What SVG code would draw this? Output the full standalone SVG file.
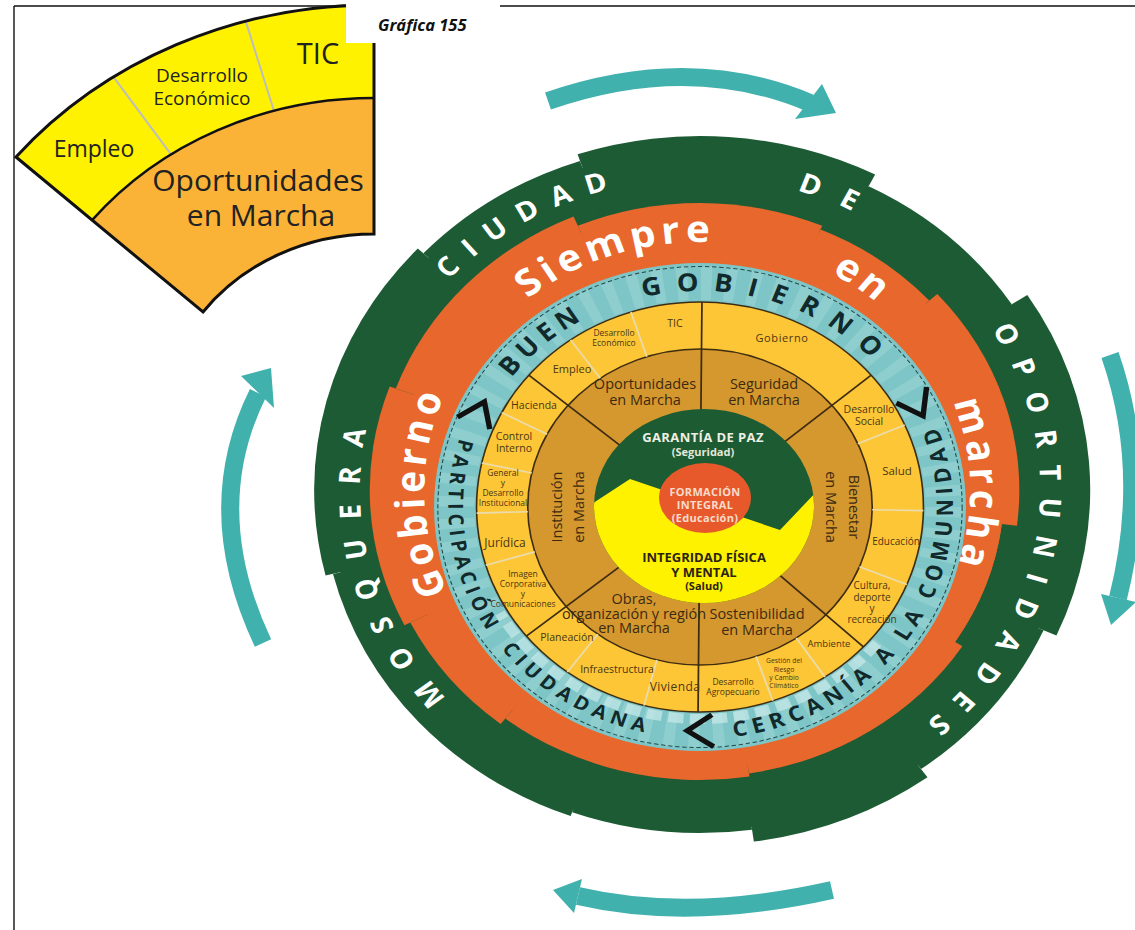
<svg xmlns="http://www.w3.org/2000/svg" width="1135" height="930" viewBox="0 0 1135 930">
<defs>
<style>
text{font-family:"Open Sans","Noto Sans","DejaVu Sans",sans-serif}
.gw{fill:#fff;font-weight:700;font-size:27px}
.ow{fill:#fff;font-weight:700;font-size:37px}
.tb{fill:#11292b;font-weight:700}
.yl{fill:#4b3614;text-anchor:middle}
.br{fill:#3c2a10;font-size:14.5px;text-anchor:middle}
.div{stroke:#3e2c12;stroke-width:1.6}
.sub{stroke:#eadcae;stroke-width:1.6}
.arw{fill:none;stroke:#41b1ae;stroke-width:18}
.ah{fill:#41b1ae}
.chev{fill:none;stroke:#111;stroke-width:5;stroke-linejoin:miter}
.gr{fill:#1c5b34}
.or{fill:#e8672c}
.ct{text-anchor:middle;font-weight:700}
</style>
<path id="pG" d="M0,312 A312,312 0 1,1 0,-312 A312,312 0 1,1 0,312" fill="none"/>
<path id="pO" d="M0,248 A248,248 0 1,1 0,-248 A248,248 0 1,1 0,248" fill="none"/>
<path id="pOL" d="M0,253 A253,253 0 1,1 0,-253 A253,253 0 1,1 0,253" fill="none"/>
<path id="pT1" d="M0,216 A216,216 0 1,1 0,-216 A216,216 0 1,1 0,216" fill="none"/>
<path id="pT2" d="M0,-231 A231,231 0 1,0 0,231 A231,231 0 1,0 0,-231" fill="none"/>
<path id="pT3" d="M0,-232 A232,232 0 1,0 0,232 A232,232 0 1,0 0,-232" fill="none"/>
<clipPath id="cc"><ellipse cx="704" cy="506" rx="110" ry="97"/></clipPath>
</defs>
<rect width="1135" height="930" fill="#fff"/>

<g id="frame" stroke="#111" stroke-width="1.4" fill="none">
<line x1="14" y1="6" x2="346" y2="6"/>
<line x1="500" y1="6" x2="1135" y2="6"/>
<line x1="14" y1="6" x2="14" y2="930"/>
</g>

<g id="inset-fan">
<path d="M16,157 A465.3,423 0 0,1 374,5 L374,234 A213.4,194 0 0,0 203,312 Z" fill="#fff200"/>
<path d="M92.1,220.1 A363,330 0 0,1 374,98 L374,234 A213.4,194 0 0,0 203,312 Z" fill="#fbb337"/>
<line x1="113.8" y1="77.3" x2="171" y2="154.4" stroke="#bdbdbd" stroke-width="2"/>
<line x1="245.8" y1="21.4" x2="273.9" y2="110.8" stroke="#bdbdbd" stroke-width="2"/>
<path d="M92.1,220.1 A363,330 0 0,1 374,98" fill="none" stroke="#111" stroke-width="2.5"/>
<path d="M16,157 A465.3,423 0 0,1 374,5 L374,234 A213.4,194 0 0,0 203,312 Z" fill="none" stroke="#111" stroke-width="3"/>
<text x="94" y="157" font-size="23" text-anchor="middle" fill="#222">Empleo</text>
<text font-size="19" text-anchor="middle" fill="#222"><tspan x="202" y="82">Desarrollo</tspan><tspan x="202" y="105">Económico</tspan></text>
<text x="318" y="64" font-size="29" text-anchor="middle" fill="#222">TIC</text>
<text font-size="30" text-anchor="middle" fill="#222"><tspan x="258" y="191">Oportunidades</tspan><tspan x="261" y="226">en Marcha</tspan></text>
</g>

<g id="title">
<rect x="346" y="0" width="154" height="43" fill="#fff"/>
<text x="378" y="31" font-family="Liberation Sans, Arial, sans-serif" font-size="16.5" font-weight="700" font-style="italic" fill="#111">Gráfica 155</text>
</g>

<g id="connectors">
<path class="arw" d="M548,101 Q690,52 810,103"/>
<polygon class="ah" points="822,84 836,113 795,119"/>
<path class="arw" d="M263,643 Q200,510 258,393"/>
<polygon class="ah" points="241,376 271,368 274,408"/>
<path class="arw" d="M1110,355 Q1150,470 1118,598"/>
<polygon class="ah" points="1101,594 1136,602 1111,625"/>
<path class="arw" d="M832,890 Q690,922 578,896"/>
<polygon class="ah" points="582,879 574,913 553,890"/>
</g>

<g id="ring-outer" transform="translate(700,490) scale(1.09,1)">
<circle r="340" class="gr"/>
<path class="gr" d="M0,0 L-343.5,85.6 A354,354 0 0,1 -258.9,-241.4 Z"/>
<path class="gr" d="M0,0 L-253.8,-236.7 A347,347 0 0,1 -110.1,-329.1 Z"/>
<path class="gr" d="M0,0 L-112.3,-335.7 A354,354 0 0,1 160.7,-315.4 Z"/>
<path class="gr" d="M0,0 L154.8,-303.8 A341,341 0 0,1 286,-185.7 Z"/>
<path class="gr" d="M0,0 L300.3,-195 A358,358 0 0,1 327,145.6 Z"/>
<path class="gr" d="M0,0 L315.2,140.3 A345,345 0 0,1 202.8,279.1 Z"/>
<path class="gr" d="M0,0 L208.7,287.2 A355,355 0 0,1 49.4,351.6 Z"/>
<path class="gr" d="M0,0 L47.7,339.7 A343,343 0 0,1 -117.3,322.3 Z"/>
<path class="gr" d="M0,0 L-118.7,326.1 A347,347 0 0,1 -336.7,83.9 Z"/>
<circle r="279" class="or"/>
<path class="or" d="M0,0 L-279.1,-101.6 A297,297 0 0,1 -116,-273.4 Z"/>
<path class="or" d="M0,0 L-112.1,-264.2 A287,287 0 0,1 112.1,-264.2 Z"/>
<path class="or" d="M0,0 L110.6,-260.5 A283,283 0 0,1 210.3,-189.4 Z"/>
<path class="or" d="M0,0 L217.7,-196 A293,293 0 0,1 290.8,35.7 Z"/>
<path class="or" d="M0,0 L276.9,34 A279,279 0 0,1 234,151.9 Z"/>
<path class="or" d="M0,0 L240.7,156.3 A287,287 0 0,1 44.9,283.5 Z"/>
<path class="or" d="M0,0 L45.4,286.4 A290,290 0 0,1 -178.6,228.5 Z"/>
<path class="or" d="M0,0 L-182.9,234 A297,297 0 0,1 -265.8,132.5 Z"/>
<path class="or" d="M0,0 L-271.2,135.2 A303,303 0 0,1 -284.7,-103.6 Z"/>
<text class="gw" text-anchor="middle" letter-spacing="19"><textPath href="#pG" startOffset="415.7">MOSQUERA</textPath></text>
<text class="gw" text-anchor="middle" letter-spacing="14"><textPath href="#pG" startOffset="814.6">CIUDAD</textPath></text>
<text class="gw" text-anchor="middle" letter-spacing="20"><textPath href="#pG" startOffset="1107.3">DE</textPath></text>
<text class="gw" text-anchor="middle" letter-spacing="16.5"><textPath href="#pG" startOffset="1524.8">OPORTUNIDADES</textPath></text>
<text class="ow" text-anchor="middle" letter-spacing="4.4"><textPath href="#pOL" startOffset="394.8">Gobierno</textPath></text>
<text class="ow" text-anchor="middle" letter-spacing="4.7"><textPath href="#pO" startOffset="700">Siempre</textPath></text>
<text class="ow" text-anchor="middle" letter-spacing="4"><textPath href="#pO" startOffset="931.7">en</textPath></text>
<text class="ow" text-anchor="middle" letter-spacing="4.7"><textPath href="#pO" startOffset="1162.8">marcha</textPath></text>
</g>

<g id="ring-inner" transform="translate(700,507) scale(1.09,1)">
<circle r="244" fill="#7dc5c6"/>
<circle r="224" fill="none" stroke="#a9dbdb" stroke-width="34" stroke-dasharray="10 12" opacity=".4"/>
<path d="M162.4,136.3 A212,212 0 0,1 -183.6,106" fill="none" stroke="#d4efee" stroke-width="10" stroke-dasharray="14 6" opacity=".6"/>
<circle r="240.5" fill="none" stroke="#25494a" stroke-width="1" stroke-dasharray="4 2.5"/>
<text class="tb" font-size="25" text-anchor="middle" letter-spacing="5.5"><textPath href="#pT1" startOffset="523.8">BUEN</textPath></text>
<text class="tb" font-size="25" text-anchor="middle" letter-spacing="13.5"><textPath href="#pT1" startOffset="746.5">GOBIERNO</textPath></text>
<text class="tb" font-size="19" text-anchor="middle" letter-spacing="4.4"><textPath href="#pT2" startOffset="395.1">PARTICIPACIÓN</textPath></text>
<text class="tb" font-size="19" text-anchor="middle" letter-spacing="5.3"><textPath href="#pT2" startOffset="597.1">CIUDADANA</textPath></text>
<text class="tb" font-size="21" text-anchor="middle" letter-spacing="5.3"><textPath href="#pT3" startOffset="969.8">CERCANÍA A LA COMUNIDAD</textPath></text>
<polyline class="chev" points="240,0 222.8,23.4 208,0" transform="rotate(202)"/>
<polyline class="chev" points="240,0 222.8,23.4 208,0" transform="rotate(330)"/>
<polyline class="chev" points="240,0 222.8,23.4 208,0" transform="rotate(87)"/>
<circle r="205" fill="#fdc636" stroke="#3e2c12" stroke-width="1.5"/>
<circle r="158" fill="#d4982f" stroke="#3e2c12" stroke-width="1.5"/>
<g class="sub">
<line x1="158" x2="205" transform="rotate(234.6)"/>
<line x1="158" x2="205" transform="rotate(252)"/>
<line x1="158" x2="205" transform="rotate(336.4)"/>
<line x1="158" x2="205" transform="rotate(1)"/>
<line x1="158" x2="205" transform="rotate(22.2)"/>
<line x1="158" x2="205" transform="rotate(56)"/>
<line x1="158" x2="205" transform="rotate(71)"/>
<line x1="158" x2="205" transform="rotate(104.5)"/>
<line x1="158" x2="205" transform="rotate(126.4)"/>
<line x1="158" x2="205" transform="rotate(207.4)"/>
<line x1="158" x2="205" transform="rotate(192.4)"/>
<line x1="158" x2="205" transform="rotate(178.3)"/>
<line x1="158" x2="205" transform="rotate(163.5)"/>
</g>
<g class="div">
<line x1="90" x2="205" transform="rotate(220)"/>
<line x1="90" x2="205" transform="rotate(270.5)"/>
<line x1="90" x2="205" transform="rotate(320)"/>
<line x1="90" x2="205" transform="rotate(43)"/>
<line x1="90" x2="205" transform="rotate(90.5)"/>
<line x1="90" x2="205" transform="rotate(141)"/>
</g>
</g>

<g id="ring-yellow">
<text class="yl" font-size="10.5"><tspan x="675" y="327">TIC</tspan></text>
<text class="yl" font-size="8.5"><tspan x="614" y="336">Desarrollo</tspan><tspan x="614" y="346">Económico</tspan></text>
<text class="yl" font-size="11"><tspan x="572" y="373">Empleo</tspan></text>
<text class="yl" font-size="11" letter-spacing=".6"><tspan x="782" y="342">Gobierno</tspan></text>
<text class="yl" font-size="10.5"><tspan x="534" y="409">Hacienda</tspan></text>
<text class="yl" font-size="10.5"><tspan x="514" y="440">Control</tspan><tspan x="514" y="452">Interno</tspan></text>
<text class="yl" font-size="8.5"><tspan x="503" y="476">General</tspan><tspan x="503" y="486">y</tspan><tspan x="503" y="496">Desarrollo</tspan><tspan x="503" y="506">Institucional</tspan></text>
<text class="yl" font-size="12"><tspan x="505" y="547">Jurídica</tspan></text>
<text class="yl" font-size="8.5"><tspan x="523" y="577">Imagen</tspan><tspan x="523" y="587">Corporativa</tspan><tspan x="523" y="597">y</tspan><tspan x="523" y="607">Comunicaciones</tspan></text>
<text class="yl" font-size="10.5"><tspan x="567" y="641">Planeación</tspan></text>
<text class="yl" font-size="10.5"><tspan x="617" y="673">Infraestructura</tspan></text>
<text class="yl" font-size="12" letter-spacing=".4"><tspan x="675" y="691">Vivienda</tspan></text>
<text class="yl" font-size="8.5"><tspan x="733" y="685">Desarrollo</tspan><tspan x="733" y="695">Agropecuario</tspan></text>
<text class="yl" font-size="6.8"><tspan x="784" y="663">Gestión del</tspan><tspan x="784" y="672">Riesgo</tspan><tspan x="784" y="680">y Cambio</tspan><tspan x="784" y="688">Climático</tspan></text>
<text class="yl" font-size="9.5"><tspan x="829" y="647">Ambiente</tspan></text>
<text class="yl" font-size="10"><tspan x="872" y="589">Cultura,</tspan><tspan x="872" y="601">deporte</tspan><tspan x="872" y="612">y</tspan><tspan x="872" y="623">recreación</tspan></text>
<text class="yl" font-size="10"><tspan x="896" y="545">Educación</tspan></text>
<text class="yl" font-size="11.5"><tspan x="897" y="475">Salud</tspan></text>
<text class="yl" font-size="10.5"><tspan x="869" y="413">Desarrollo</tspan><tspan x="869" y="425">Social</tspan></text>
</g>

<g id="ring-brown">
<text class="br"><tspan x="645" y="389">Oportunidades</tspan><tspan x="645" y="405">en Marcha</tspan></text>
<text class="br"><tspan x="764" y="389">Seguridad</tspan><tspan x="764" y="405">en Marcha</tspan></text>
<text class="br"><tspan x="757" y="619">Sostenibilidad</tspan><tspan x="757" y="635">en Marcha</tspan></text>
<text class="br" font-size="13.5"><tspan x="634" y="604">Obras,</tspan><tspan x="634" y="619">organización y región</tspan><tspan x="634" y="633">en Marcha</tspan></text>
<text class="br" font-size="16.5" transform="translate(562,507) rotate(-90)">Institución</text>
<text class="br" font-size="16.5" transform="translate(584,507) rotate(-90)">en Marcha</text>
<text class="br" font-size="16.5" transform="translate(849,507) rotate(90)">Bienestar</text>
<text class="br" font-size="16.5" transform="translate(826,507) rotate(90)">en Marcha</text>
</g>

<g id="core">
<ellipse cx="704" cy="506" rx="110" ry="97" fill="#1d5b33"/>
<polygon clip-path="url(#cc)" points="590,505 630,479 780,530 820,488 820,612 590,612" fill="#fff200"/>
<ellipse cx="705" cy="498" rx="46" ry="35" fill="#e7592b"/>
<text class="ct" x="703" y="442" font-size="13" letter-spacing=".4" fill="#eef0e4">GARANTÍA DE PAZ</text>
<text class="ct" x="703" y="456" font-size="11" fill="#e4e8da">(Seguridad)</text>
<text class="ct" x="705" y="496" font-size="11" letter-spacing=".3" fill="#f7dccb">FORMACIÓN</text>
<text class="ct" x="705" y="509" font-size="11" letter-spacing=".3" fill="#f7dccb">INTEGRAL</text>
<text class="ct" x="705" y="522" font-size="11" letter-spacing=".3" fill="#f7dccb">(Educación)</text>
<text class="ct" x="704" y="562" font-size="13" fill="#2b2410">INTEGRIDAD FÍSICA</text>
<text class="ct" x="704" y="577" font-size="13" fill="#2b2410">Y MENTAL</text>
<text class="ct" x="704" y="590" font-size="11" fill="#2b2410">(Salud)</text>
</g>
</svg>
